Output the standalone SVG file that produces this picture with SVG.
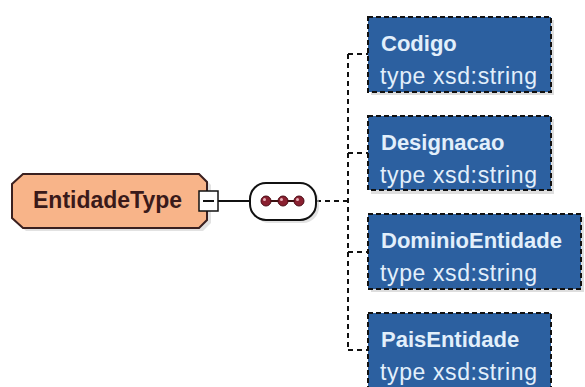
<svg xmlns="http://www.w3.org/2000/svg" width="585" height="387" viewBox="0 0 585 387">
<defs>
<style>
.el{fill:#2c60a0;stroke:#111;stroke-width:2;stroke-dasharray:5 3}
.sh{fill:#c8c8c8;opacity:0.6}
.nm{font-family:"Liberation Sans",Arial,sans-serif;font-size:22px;font-weight:bold;fill:#e2effb}
.tp{font-family:"Liberation Sans",Arial,sans-serif;font-size:23px;fill:#e2effb}
.dash{fill:none;stroke:#111;stroke-width:2;stroke-dasharray:5 4}
.solid{fill:none;stroke:#111;stroke-width:2}
</style>
</defs>
<rect width="585" height="387" fill="#ffffff"/>
<g id="connectors">
<line class="solid" x1="218" y1="201" x2="250" y2="201"/>
<line class="dash" x1="316" y1="201" x2="348" y2="201"/>
<line class="dash" x1="348" y1="54" x2="348" y2="350"/>
<line class="dash" x1="348" y1="54" x2="368" y2="54"/>
<line class="dash" x1="348" y1="153" x2="368" y2="153"/>
<line class="dash" x1="348" y1="252" x2="368" y2="252"/>
<line class="dash" x1="348" y1="350" x2="368" y2="350"/>
</g>
<g id="EntidadeType">
<polygon points="26,177 203,177 211,185 211,223 203,231 26,231 15,221 15,187" fill="#cfcfcf" opacity="0.6"/>
<polygon points="23,174 199,174 207,182 207,220 199,228 23,228 12,218 12,184" fill="#f8b489" stroke="#3a2020" stroke-width="2"/>
<text x="33" y="208" font-family="'Liberation Sans',Arial,sans-serif" font-size="23" font-weight="bold" fill="#3a1a1a">EntidadeType</text>
<rect x="199" y="191" width="19" height="20" fill="#ffffff" stroke="#111" stroke-width="1.5"/>
<line x1="203" y1="201" x2="214" y2="201" stroke="#111" stroke-width="2"/>
</g>
<g id="sequence">
<rect x="253" y="186" width="66" height="37" rx="16" fill="#cfcfcf" opacity="0.6"/>
<rect x="250" y="183" width="66" height="37" rx="16" fill="#ffffff" stroke="#111" stroke-width="2"/>
<line x1="266" y1="201" x2="299" y2="201" stroke="#3a1010" stroke-width="2"/>
<circle cx="266" cy="201" r="5" fill="#8a2030" stroke="#4a0a14" stroke-width="1"/>
<circle cx="283" cy="201" r="5" fill="#8a2030" stroke="#4a0a14" stroke-width="1"/>
<circle cx="299" cy="201" r="5" fill="#8a2030" stroke="#4a0a14" stroke-width="1"/>
<circle cx="264.5" cy="199.5" r="1.5" fill="#e8b0b8"/>
<circle cx="281.5" cy="199.5" r="1.5" fill="#e8b0b8"/>
<circle cx="297.5" cy="199.5" r="1.5" fill="#e8b0b8"/>
</g>
<g id="Codigo">
<rect class="sh" x="371" y="20" width="183" height="75"/>
<rect class="el" x="368" y="17" width="183" height="75"/>
<text class="nm" x="381" y="51">Codigo</text>
<text class="tp" x="380" y="84" textLength="157" lengthAdjust="spacing">type xsd:string</text>
</g>
<g id="Designacao">
<rect class="sh" x="371" y="119" width="183" height="75"/>
<rect class="el" x="368" y="116" width="183" height="74"/>
<text class="nm" x="381" y="150">Designacao</text>
<text class="tp" x="380" y="183" textLength="157" lengthAdjust="spacing">type xsd:string</text>
</g>
<g id="DominioEntidade">
<rect class="sh" x="371" y="217" width="213" height="75"/>
<rect class="el" x="368" y="214" width="213" height="75"/>
<text class="nm" x="381" y="248">DominioEntidade</text>
<text class="tp" x="380" y="281" textLength="157" lengthAdjust="spacing">type xsd:string</text>
</g>
<g id="PaisEntidade">
<rect class="el" x="368" y="313" width="183" height="76"/>
<text class="nm" x="381" y="347">PaisEntidade</text>
<text class="tp" x="380" y="380" textLength="157" lengthAdjust="spacing">type xsd:string</text>
</g>
</svg>
